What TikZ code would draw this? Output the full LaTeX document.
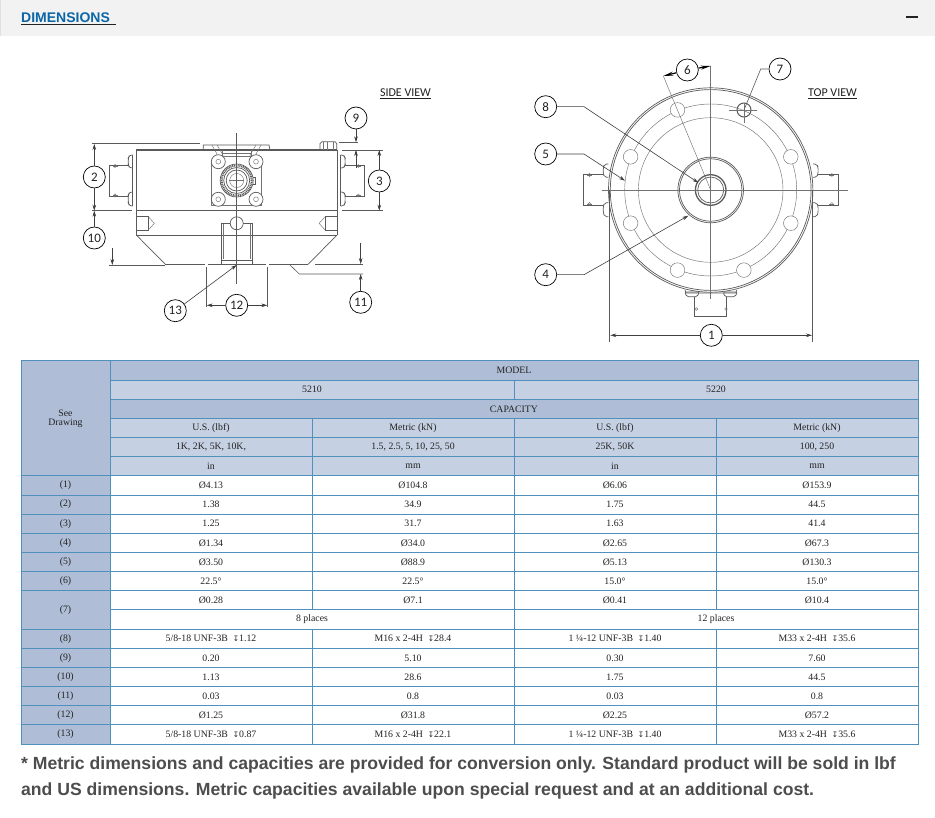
\documentclass[tikz,border=0pt]{standalone}
\usepackage{fontspec}
\setmainfont{Liberation Serif}
\newfontfamily\arialf{Liberation Sans}
\newfontfamily\calf{Carlito}
\newfontfamily\dejaf{DejaVu Sans}
\usetikzlibrary{arrows.meta}
\definecolor{hdark}{HTML}{AFBED6}
\definecolor{hlight}{HTML}{C5D0E2}
\definecolor{tline}{HTML}{4F90BC}
\definecolor{ink}{HTML}{222222}
\definecolor{draft}{HTML}{5A5A5A}
\definecolor{linkblue}{HTML}{0A66A6}
\definecolor{noteink}{HTML}{4D4D4D}
\tikzset{
  part/.style={draw=draft,line width=0.7pt},
  heavy/.style={draw=draft,line width=1.3pt},
  thin part/.style={draw=draft!85,line width=0.45pt},
  dimline/.style={draw=draft,line width=0.6pt},
  dimarrow/.style={draw=black!75,line width=0.6pt,-{Stealth[length=6pt,width=3.6pt,fill=black]}},
  callout/.style={circle,draw=black,line width=0.7pt,fill=white,minimum size=22pt,inner sep=0pt,font=\calf\fontsize{13}{13}\selectfont,text=ink},
  cellbox/.style={draw=tline,line width=1pt,inner sep=0pt,align=center,font=\fontsize{9.8}{10}\selectfont,text=ink},
  hd/.style={fill=hdark},
  hl/.style={fill=hlight},
  bd/.style={fill=white},
  viewlabel/.style={font=\calf\fontsize{12}{12}\selectfont,text=ink,inner sep=0pt},
  note/.style={font=\arialf\bfseries\fontsize{17.6}{17.6}\selectfont,text=noteink,inner sep=0pt,anchor=west}
}
\newcommand{\Dia}{Ø}
\newcommand{\Dep}{{\dejaf\fontsize{7.5}{7.5}\selectfont ↧}}
\newcommand{\tcell}[6]{%
  \pgfmathsetmacro\xa{{21,110,312,514,716,918}[#1]}%
  \pgfmathsetmacro\xb{{21,110,312,514,716,918}[#2]}%
  \pgfmathsetmacro\ya{361+19.15*#3}%
  \pgfmathsetmacro\yb{361+19.15*(#4)}%
  \pgfmathsetmacro\cwd{\xb-\xa}%
  \pgfmathsetmacro\cht{\yb-\ya}%
  \node[cellbox,#5,minimum width=\cwd pt,minimum height=\cht pt] (cell-#1-#3) at ({(\xa+\xb)/2},{(\ya+\yb)/2}) {#6};%
}
% one row of four values
\newcommand{\trow}[6]{%
  \tcell{0}{1}{#1}{#1+1}{hd}{(#2)}%
  \tcell{1}{2}{#1}{#1+1}{bd}{#3}%
  \tcell{2}{3}{#1}{#1+1}{bd}{#4}%
  \tcell{3}{4}{#1}{#1+1}{bd}{#5}%
  \tcell{4}{5}{#1}{#1+1}{bd}{#6}%
}
\newcommand{\screw}[2]{\draw[thin part] (#1,#2) circle (1.5pt);\draw[thin part] (#1-2.5,#2)--(#1+2.5,#2);}
\newcommand{\sidebits}{%
  % connector domes and bracket of the side view (left half)
  \draw[part,rounded corners=2.5pt] (132.7,155)--(129.5,155)--(128.3,158)--(128.3,165)--(129.5,168)--(132.7,168);
  \draw[part,rounded corners=2.5pt] (132.7,192)--(129.5,192)--(128.3,195)--(128.3,203)--(129.5,206)--(132.7,206);
  \draw[part] (132.7,155)--(132.7,206);
  \draw[part] (128.3,165)--(109.3,165)--(109.3,196.7)--(128.3,196.7);
  \screw{115}{166}\screw{115}{195.5}
  % threaded pocket
  \draw[part] (136.3,216.7)--(148.3,216.7)--(148.3,230)--(136.3,230);
  \draw[thin part] (148.3,216.7)--(154.3,223.3)--(148.3,230);
  % chamfer
  \draw[part] (136.3,235)--(165.3,264.3);
}
\newcommand{\topbits}{%
  \draw[part,rounded corners=2pt] (608.3,164)--(604.5,164)--(603.3,167)--(603.3,174)--(604.5,177.3)--(608.3,177.3);
  \draw[part,rounded corners=2pt] (608.3,202.7)--(604.5,202.7)--(603.3,206)--(603.3,213)--(604.5,216.7)--(608.3,216.7);
  \draw[part] (603.3,174)--(583.3,174)--(583.3,205.7)--(603.3,205.7);
  \screw{589.5}{175}\screw{589.5}{204}
}
\begin{document}
\begin{tikzpicture}[x=1pt,y=-1pt]
\useasboundingbox (0,0) rectangle (935,818);
\fill[white] (0,0) rectangle (935,818);
% page header
\fill[black!5] (0,0) rectangle (935,36);
\fill[black!12] (0,0) rectangle (1,36);
\node[inner sep=0pt,anchor=west,font=\arialf\bfseries\fontsize{14}{14}\selectfont,text=linkblue] (title) at (21,17.5) {DIMENSIONS};
\draw[line width=1pt,ink] (21,24.5)--(116,24.5);
\fill[ink] (906,16)  rectangle (918,18.5);
\node[viewlabel] (sideview) at (405.5,93.5) {\underline{SIDE VIEW}};
\node[viewlabel] (topview) at (832.5,94) {\underline{TOP VIEW}};

%%% SIDE VIEW
\sidebits
\begin{scope}[xshift=473.4pt,xscale=-1]\sidebits\end{scope}
\draw[part] (136.3,150)--(136.3,235);
\draw[part] (337,150)--(337,235);
\draw[heavy] (136.3,150)--(337,150);
\draw[heavy] (136.3,210.7)--(337,210.7);
\draw[part] (136.3,235)--(337,235);
\draw[heavy] (165.3,264.6)--(205,264.6);
\draw[heavy] (208,264.6)--(266,264.6);
\draw[heavy] (269,264.6)--(308,264.6);
% bolt
\draw[part] (320,150)--(320,143.5)--(322,141.7)--(335,141.7)--(336.7,143.5)--(336.7,150);
\draw[thin part] (323.5,142)--(323.5,150) (327,142)--(327,150) (333,142)--(333,150);
% top plate and ears
\draw[part] (203.3,150)--(203.3,145)--(269,145)--(270,150);
\draw[thin part] (212,145)--(217,154)--(215,160);
\draw[thin part] (217,145)--(223,155)--(222,160);
\draw[thin part] (261,145)--(256,154)--(258,160);
\draw[thin part] (256,145)--(250,155)--(251,160);
\draw[thin part] (222,150)--(222,157) (251,150)--(251,157) (222,153)--(251,153) (222,156)--(251,156);
\draw[thin part] (211.7,162)--(211.7,205)--(261.7,205)--(261.7,162);
\foreach \cx/\cy in {218.3/161.7,256/161.7,218.3/199.3,256/199.3}{
  \draw[part,fill=white] (\cx,\cy) circle (7pt);
  \draw[thin part] (\cx,\cy) circle (2.4pt);
}
% receptacle
\draw[draft,line width=2pt,dash pattern=on 1pt off 0.8pt] (236.7,180.5) circle (15pt);
\draw[part] (236.7,180.5) circle (16.5pt);
\draw[part] (236.7,180.5) circle (13pt);
\draw[part] (236.7,180.5) circle (10.5pt);
\draw[thin part] (236.7,180.5) circle (7pt);
\draw[thin part] (229,180.5)--(244,180.5);
\draw[part] (253,177)--(255.5,177)--(255.5,184)--(253,184);
% lower centre boss
\draw[part] (221.7,264)--(221.7,223.3)--(252.3,223.3)--(252.3,264);
\draw[thin part] (223.3,224)--(223.3,259) (250.7,224)--(250.7,259);
\draw[part] (221.7,260)--(252.3,260);
\draw[part,fill=white] (236.7,223.3) circle (6.5pt);
\draw[dimline] (236.7,133.3)--(236.7,284);

% side-view callouts
\node[callout] (c2) at (94.3,177) {2};
\node[callout] (c10) at (94.3,238) {10};
\node[callout] (c9) at (356,118) {9};
\node[callout] (c3) at (379.3,181) {3};
\node[callout] (c11) at (360.7,302.3) {11};
\node[callout] (c12) at (236.7,305.3) {12};
\node[callout] (c13) at (175.3,310.7) {13};
\coordinate (d2top) at (94.3,144);
\coordinate (d2bot) at (94.3,210.7);
\coordinate (d3top) at (379.3,150);
\coordinate (d3bot) at (379.3,210.7);
\coordinate (d9top) at (356,142.3);
\coordinate (d9tip) at (356,150);
\coordinate (d9tail) at (356,168);
\coordinate (d10a) at (112.3,265);
\coordinate (d10tail) at (112.3,248);
\coordinate (d11a) at (360.7,264);
\coordinate (d11tail) at (360.7,242.7);
\coordinate (d11b) at (360.7,274);
\coordinate (d12l) at (206.7,305.3);
\coordinate (d12r) at (267.3,305.3);
\coordinate (d13) at (236.7,265);
\draw[dimline] (91.7,143.7)--(200,143.7);
\draw[dimline] (91.7,210.7)--(131.7,210.7);
\draw[dimline] (341.7,150)--(382.7,150);
\draw[dimline] (341.7,210.7)--(382.7,210.7);
\draw[dimline] (339.3,142.3)--(358.3,142.3);
\draw[dimline] (109.3,265)--(165,265);
\draw[dimline] (315,264)--(363.3,264);
\draw[dimline] (290,265)--(299.3,274)--(363,274);
\draw[dimline] (206.4,267)--(206.4,307);
\draw[dimline] (267.6,267)--(267.6,307);
\draw[dimarrow] (c2)--(d2top);
\draw[dimarrow] (c2)--(d2bot);
\draw[dimarrow] (c10)--(d2bot);
\draw[dimarrow] (c3)--(d3top);
\draw[dimarrow] (c3)--(d3bot);
\draw[dimarrow] (c9)--(d9top);
\draw[dimarrow] (d9tail)--(d9tip);
\draw[dimarrow] (d10tail)--(d10a);
\draw[dimarrow] (d11tail)--(d11a);
\draw[dimarrow] (c11)--(d11b);
\draw[dimarrow] (c12)--(d12l);
\draw[dimarrow] (c12)--(d12r);
\draw[dimarrow] (c13)--(d13);

%%% TOP VIEW
\coordinate (ctr) at (710.7,190);
\topbits
\begin{scope}[xshift=1421.4pt,xscale=-1]\topbits\end{scope}
\draw[part] (ctr) circle (102.2pt);
\draw[part] (ctr) circle (100.4pt);
\draw[thin part] (ctr) circle (86pt);
\draw[thin part] (ctr) circle (72.3pt);
\draw[part] (ctr) circle (32.8pt);
\draw[part] (ctr) circle (31.2pt);
\draw[heavy] (ctr) circle (15.3pt);
\draw[part] (ctr) circle (13pt);
\foreach \a in {22.5,67.5,112.5,157.5,202.5,247.5,337.5}{
  \draw[thin part,fill=white] (ctr) ++(\a:86.7) circle (7.3pt);
}
\draw[heavy,line width=1pt] (744,110) circle (7pt);
\draw[thin part] (729.3,110)--(756.7,110);
\draw[thin part] (744,103)--(744,123);
% bottom connector
\draw[part] (685,290)--(686,293)--(736,293)--(736.7,290);
\draw[part,rounded corners=1.5pt] (684.5,292)--(699.5,292)--(697,296.7)--(687,296.7)--cycle;
\draw[part,rounded corners=1.5pt] (723,292)--(737.5,292)--(735,296.7)--(725,296.7)--cycle;
\draw[part] (694.5,296.7)--(694.5,316)--(726,316)--(726,296.7);
\draw[thin part] (696.3,309) circle (1.4pt) (726,309) circle (1.4pt);
% centre lines
\draw[thin part] (601.7,190)--(848.3,190);
\draw[thin part] (710.7,66)--(710.7,299.3);

% top-view callouts
\node[callout] (c6) at (687.3,70) {6};
\node[callout] (c7) at (780,69) {7};
\node[callout] (c8) at (545.7,106.7) {8};
\node[callout] (c5) at (545.7,154) {5};
\node[callout] (c4) at (545.7,274.7) {4};
\node[callout] (c1) at (711.3,335.3) {1};
\coordinate (d6r) at (710.7,66);
\coordinate (d6l) at (663.3,76);
\coordinate (d7) at (744,110);
\coordinate (k7) at (760.7,69);
\coordinate (d8) at (698.3,182.7);
\coordinate (k8) at (584,106.7);
\coordinate (d5) at (625,180.7);
\coordinate (k5) at (584,154);
\coordinate (d4) at (688.3,215.7);
\coordinate (k4) at (584,274.7);
\coordinate (d1l) at (610.3,335.3);
\coordinate (d1r) at (812,335.3);
\draw[thin part] (d6l)--(ctr);
\draw[dimline] (609.3,190)--(609.3,342);
\draw[dimline] (812.7,190)--(812.7,342);
\draw[dimline] (c7)--(k7)--(d7);
\draw[-{Stealth[length=10pt,width=4pt,fill=black]},black,line width=1.2pt] (c6)--(d6r);
\draw[-{Stealth[length=10pt,width=4pt,fill=black]},black,line width=1.2pt] (c6)--(d6l);
\draw[dimarrow] (c8)--(k8)--(d8);
\draw[dimarrow] (c5)--(k5)--(d5);
\draw[dimarrow] (c4)--(k4)--(d4);
\draw[dimarrow] (c1)--(d1l);
\draw[dimarrow] (c1)--(d1r);

%%% TABLE
\tcell{0}{1}{0}{6}{hd}{See\\[-1pt]Drawing}
\tcell{1}{5}{0}{1}{hd}{MODEL}
\tcell{1}{3}{1}{2}{hl}{5210}
\tcell{3}{5}{1}{2}{hl}{5220}
\tcell{1}{5}{2}{3}{hd}{CAPACITY}
\tcell{1}{2}{3}{4}{hl}{U.S. (lbf)}
\tcell{2}{3}{3}{4}{hl}{Metric (kN)}
\tcell{3}{4}{3}{4}{hl}{U.S. (lbf)}
\tcell{4}{5}{3}{4}{hl}{Metric (kN)}
\tcell{1}{2}{4}{5}{hl}{1K, 2K, 5K, 10K,}
\tcell{2}{3}{4}{5}{hl}{1.5, 2.5, 5, 10, 25, 50}
\tcell{3}{4}{4}{5}{hl}{25K, 50K}
\tcell{4}{5}{4}{5}{hl}{100, 250}
\tcell{1}{2}{5}{6}{hl}{in}
\tcell{2}{3}{5}{6}{hl}{mm}
\tcell{3}{4}{5}{6}{hl}{in}
\tcell{4}{5}{5}{6}{hl}{mm}
\trow{6}{1}{\Dia 4.13}{\Dia 104.8}{\Dia 6.06}{\Dia 153.9}
\trow{7}{2}{1.38}{34.9}{1.75}{44.5}
\trow{8}{3}{1.25}{31.7}{1.63}{41.4}
\trow{9}{4}{\Dia 1.34}{\Dia 34.0}{\Dia 2.65}{\Dia 67.3}
\trow{10}{5}{\Dia 3.50}{\Dia 88.9}{\Dia 5.13}{\Dia 130.3}
\trow{11}{6}{22.5°}{22.5°}{15.0°}{15.0°}
\tcell{0}{1}{12}{14}{hd}{(7)}
\tcell{1}{2}{12}{13}{bd}{\Dia 0.28}
\tcell{2}{3}{12}{13}{bd}{\Dia 7.1}
\tcell{3}{4}{12}{13}{bd}{\Dia 0.41}
\tcell{4}{5}{12}{13}{bd}{\Dia 10.4}
\tcell{1}{3}{13}{14}{bd}{8 places}
\tcell{3}{5}{13}{14}{bd}{12 places}
\trow{14}{8}{5/8-18 UNF-3B\enspace\Dep 1.12}{M16 x 2-4H\enspace\Dep 28.4}{1 ¼-12 UNF-3B\enspace\Dep 1.40}{M33 x 2-4H\enspace\Dep 35.6}
\trow{15}{9}{0.20}{5.10}{0.30}{7.60}
\trow{16}{10}{1.13}{28.6}{1.75}{44.5}
\trow{17}{11}{0.03}{0.8}{0.03}{0.8}
\trow{18}{12}{\Dia 1.25}{\Dia 31.8}{\Dia 2.25}{\Dia 57.2}
\trow{19}{13}{5/8-18 UNF-3B\enspace\Dep 0.87}{M16 x 2-4H\enspace\Dep 22.1}{1 ¼-12 UNF-3B\enspace\Dep 1.40}{M33 x 2-4H\enspace\Dep 35.6}

%%% NOTE
\node[note] (note1) at (21,765) {* Metric dimensions and capacities are provided for conversion only. Standard product will be sold in lbf};
\node[note] (note2) at (21,790.5) {and US dimensions. Metric capacities available upon special request and at an additional cost.};
\end{tikzpicture}
\end{document}
